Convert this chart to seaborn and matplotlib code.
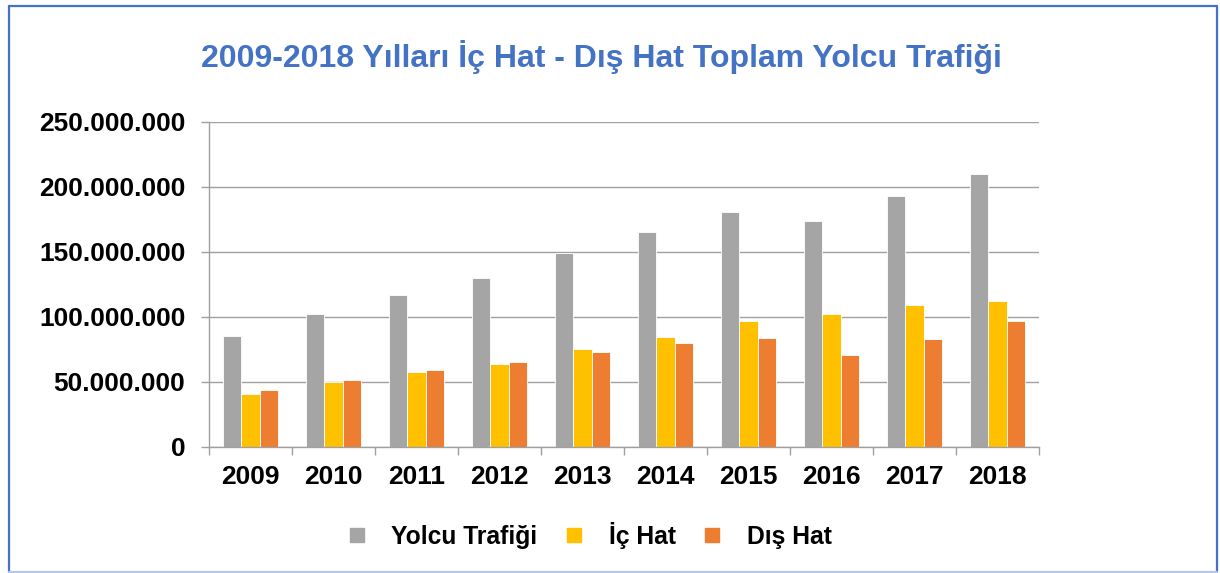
import numpy as np
import pandas as pd
import matplotlib.pyplot as plt
import seaborn as sns
from matplotlib.lines import Line2D
from matplotlib.ticker import FuncFormatter, FixedLocator

# data (passengers)
years = ['2009', '2010', '2011', '2012', '2013', '2014', '2015', '2016', '2017', '2018']
yolcu = [85.4e6, 102.5e6, 117.3e6, 130.0e6, 149.3e6, 165.5e6, 180.9e6, 173.7e6, 192.9e6, 210.3e6]
ic_hat = [40.8e6, 50.0e6, 57.7e6, 64.1e6, 75.4e6, 84.9e6, 96.9e6, 102.3e6, 109.2e6, 112.5e6]
dis_hat = [43.8e6, 51.5e6, 59.0e6, 65.1e6, 72.8e6, 79.8e6, 83.6e6, 70.8e6, 83.1e6, 97.2e6]
series = ['Yolcu Trafiği', 'İç Hat', 'Dış Hat']
colors = ['#A5A5A5', '#FFC000', '#ED7D31']

df = pd.DataFrame({
    'year': years * 3,
    'value': yolcu + ic_hat + dis_hat,
    'series': [s for s in series for _ in years],
})

sns.set_style('white')
plt.rcParams['font.family'] = ['Liberation Sans', 'DejaVu Sans']
plt.rcParams['font.weight'] = 'bold'
plt.rcParams['text.color'] = 'black'

fig = plt.figure(figsize=(12.2, 5.73), dpi=100)
ax = fig.add_axes([0.1713, 0.2199, 0.6803, 0.5672])

sns.barplot(data=df, x='year', y='value', hue='series', palette=colors, saturation=1,
            width=0.667, edgecolor='white', linewidth=0.6, legend=False, ax=ax)

ax.set_ylim(0, 250e6)
ax.set_xlim(-0.5, len(years) - 0.5)
ax.set_yticks(np.arange(0, 250e6 + 1, 50e6))
ax.yaxis.set_major_formatter(FuncFormatter(lambda v, p: f"{int(v):,}".replace(',', '.')))
ax.grid(axis='y', color='#A0A0A0', linewidth=1.0)
ax.set_axisbelow(True)

# category boundary ticks on x
ax.xaxis.set_minor_locator(FixedLocator(np.arange(-0.5, len(years), 1.0)))
ax.tick_params(axis='x', which='major', length=0, pad=13, labelsize=19, labelcolor='black')
ax.tick_params(axis='x', which='minor', length=6, width=1.0, color='#A0A0A0', direction='out', bottom=True)
ax.tick_params(axis='y', length=6, width=1.0, color='#A0A0A0', direction='out', left=True, pad=11,
               labelsize=19, labelcolor='black')
for lab in ax.get_xticklabels() + ax.get_yticklabels():
    lab.set_fontweight('bold')

for side in ['top', 'right']:
    ax.spines[side].set_visible(False)
for side in ['left', 'bottom']:
    ax.spines[side].set_color('#A0A0A0')
    ax.spines[side].set_linewidth(1.0)
ax.set_xlabel('')
ax.set_ylabel('')

fig.text(0.493, 0.9005, '2009-2018 Yılları İç Hat - Dış Hat Toplam Yolcu Trafiği',
         ha='center', va='center', fontsize=23, fontweight='bold', color='#4472C4')

handles = [Line2D([], [], marker='s', linestyle='none', markersize=9.5,
                  markerfacecolor=c, markeredgecolor=c) for c in colors]
leg = fig.legend(handles, series, loc='center', bbox_to_anchor=(0.482, 0.0663), ncol=3,
                 frameon=False, handlelength=1.0, handletextpad=0.9, columnspacing=1.0,
                 prop={'size': 17.7, 'weight': 'bold'})
for t in leg.get_texts():
    t.set_color('black')

# outer border
blue = '#4472C4'
x0, x1 = 9 / 1220, 1217 / 1220
y0, y1 = 1 - 572 / 573, 1 - 5.5 / 573
fig.add_artist(Line2D([x0, x1], [y1, y1], transform=fig.transFigure, color=blue, lw=1.6))
fig.add_artist(Line2D([x0, x0], [y0, y1], transform=fig.transFigure, color=blue, lw=1.6))
fig.add_artist(Line2D([x1, x1], [y0, y1], transform=fig.transFigure, color=blue, lw=1.6))
fig.add_artist(Line2D([x0, x1], [y0, y0], transform=fig.transFigure, color='#B4C7E7', lw=1.6))

fig.savefig('out.png', dpi=100)
